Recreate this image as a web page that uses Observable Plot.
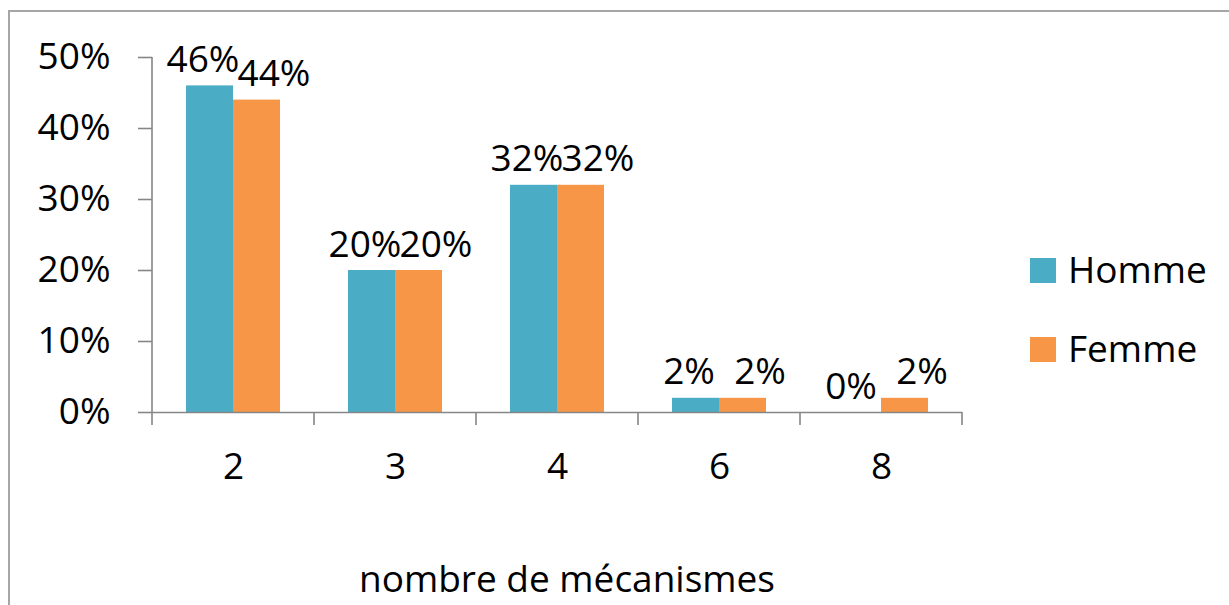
<!DOCTYPE html>
<html><head><meta charset="utf-8">
<script src="https://cdn.jsdelivr.net/npm/d3@7"></script>
<script src="https://cdn.jsdelivr.net/npm/@observablehq/plot@0.6"></script>
<style>
html,body{margin:0;padding:0;background:#fff;overflow:hidden;}
#wrap{position:relative;width:1229px;height:605px;overflow:hidden;font-family:"Open Sans",sans-serif;color:#000;}
#border{position:absolute;left:8px;top:10px;width:1400px;height:800px;border-left:2px solid #a6a6a6;border-top:2px solid #a6a6a6;}
#chart{position:absolute;left:0;top:0;}
.legend{position:absolute;left:1030px;font-size:37px;line-height:1;}
.legend .item{position:absolute;left:0;white-space:nowrap;}
.legend .sw{position:absolute;left:0;width:26px;height:25px;}
.legend .lab{position:absolute;left:38px;}
#xtitle{position:absolute;left:567px;top:559px;transform:translateX(-50%);font-size:37px;white-space:nowrap;line-height:1;}
</style></head><body>
<div id="wrap"><div id="border"></div><div id="chart"></div>
<div class="legend" id="legend"></div>
<div id="xtitle"></div></div>
<script>
const categories = ["2", "3", "4", "6", "8"];
const seriesNames = ["Homme", "Femme"];
const hommeValues = [0.46, 0.20, 0.32, 0.02, 0.00];
const femmeValues = [0.44, 0.20, 0.32, 0.02, 0.02];
const yTicks = [0, 0.1, 0.2, 0.3, 0.4, 0.5];
const colors = ["#4BACC6", "#F79646"];
const xTitle = "nombre de mécanismes";

const fmt = d3.format(".0%");
const data = categories.flatMap((c, i) => [
  {cat: c, sexe: seriesNames[0], v: hommeValues[i]},
  {cat: c, sexe: seriesNames[1], v: femmeValues[i]}
]);
const axisColor = "#868686";

const plot = Plot.plot({
  width: 1229, height: 605,
  marginLeft: 150, marginRight: 266, marginTop: 57, marginBottom: 193,
  style: {fontFamily: '"Open Sans", sans-serif', fontSize: "37px", color: "#000", background: "transparent", overflow: "visible"},
  fx: {domain: categories, padding: 0, label: null},
  x: {domain: seriesNames, paddingInner: 0, paddingOuter: 0.72, axis: null},
  y: {domain: [0, 0.5], label: null, axis: null},
  color: {domain: seriesNames, range: colors},
  marks: [
    Plot.barY(data, {fx: "cat", x: "sexe", y: "v", fill: "sexe"}),
    Plot.ruleY([0], {stroke: axisColor, strokeWidth: 1.6}),
    Plot.text(data.filter(d => d.sexe === seriesNames[0]), {fx: "cat", x: "sexe", y: "v", text: d => fmt(d.v), lineAnchor: "bottom", dy: -14, dx: -7, fill: "#000"}),
    Plot.text(data.filter(d => d.sexe === seriesNames[1]), {fx: "cat", x: "sexe", y: "v", text: d => fmt(d.v), lineAnchor: "bottom", dy: -14, dx: 17, fill: "#000"}),
    Plot.axisY(yTicks, {tickSize: 14, tickPadding: 28, tickFormat: fmt, stroke: axisColor, strokeWidth: 1.6, fill: "#000", label: null}),
    Plot.axisFx({anchor: "bottom", tickSize: 0, tickPadding: 40, label: null, fill: "#000"})
  ]
});
document.getElementById("chart").appendChild(plot);

// axis line and category boundary ticks, from the plot's own scales
const fx = plot.scale("fx"), y = plot.scale("y");
const svg = d3.select(plot);
const y0 = y.apply(0), y1 = y.apply(0.5);
const left = fx.apply(categories[0]);
svg.append("line").attr("x1", left).attr("x2", left).attr("y1", y1).attr("y2", y0)
  .attr("stroke", axisColor).attr("stroke-width", 1.6);
const bounds = categories.map(c => fx.apply(c)).concat([fx.apply(categories[categories.length - 1]) + fx.bandwidth]);
bounds.forEach(b => svg.append("line").attr("x1", b).attr("x2", b).attr("y1", y0).attr("y2", y0 + 13)
  .attr("stroke", axisColor).attr("stroke-width", 1.6));

// legend
const legend = document.getElementById("legend");
const legendTops = [258, 337];
seriesNames.forEach((s, i) => {
  const it = document.createElement("div");
  it.className = "item"; it.style.top = legendTops[i] + "px";
  it.innerHTML = `<div class="sw" style="background:${colors[i]}"></div><div class="lab" style="top:-8px">${s}</div>`;
  legend.appendChild(it);
});
document.getElementById("xtitle").textContent = xTitle;
</script>
</body></html>
